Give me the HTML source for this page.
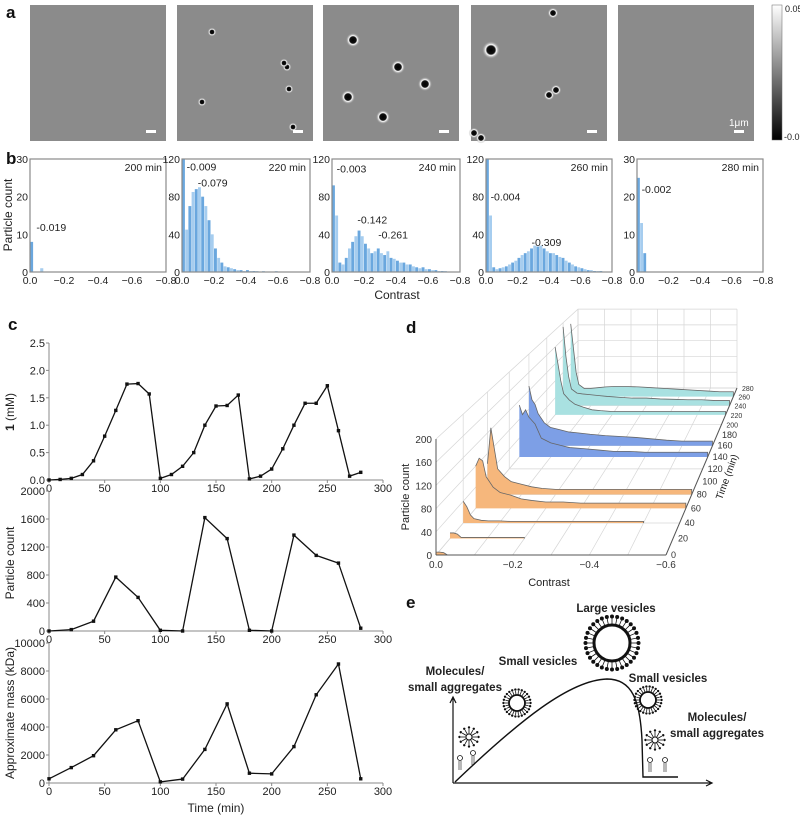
<!DOCTYPE html>
<html><head><meta charset="utf-8"><style>
html,body{margin:0;padding:0;background:#fff;}
svg{display:block;font-family:"Liberation Sans",sans-serif;}
</style></head><body>
<svg id="fig" width="800" height="817" viewBox="0 0 800 817" xmlns="http://www.w3.org/2000/svg">
<defs>
<linearGradient id="cbar" x1="0" y1="0" x2="0" y2="1"><stop offset="0" stop-color="#fff"/><stop offset="1" stop-color="#000"/></linearGradient>
<radialGradient id="dotg"><stop offset="0" stop-color="#000"/><stop offset="0.45" stop-color="#111"/><stop offset="0.6" stop-color="#fff"/><stop offset="1" stop-color="#8c8c8c" stop-opacity="0"/></radialGradient>
</defs>
<g font-weight="bold" font-size="17" fill="#111">
<text x="6" y="18">a</text>
<text x="6" y="164">b</text>
<text x="8" y="330">c</text>
<text x="406" y="333">d</text>
<text x="406" y="608">e</text>
</g>
<g id="pa"></g>
<g id="pb"></g>
<g id="pc"></g>
<g id="pd"></g>
<g id="pe"></g>
</svg>
<script>
const NS='http://www.w3.org/2000/svg';
function mk(tag,attrs,parent,txt){const e=document.createElementNS(NS,tag);for(const k in attrs)e.setAttribute(k,attrs[k]);if(txt!==undefined)e.textContent=txt;parent.appendChild(e);return e;}

// ---------- Panel a data ----------
const imgX=[30,177,323,471,618];
const imgDots=[[],[[35,27,2.5],[110,62,2.5],[107,58,2.5],[112,84,2.5],[25,97,2.5],[116,122,2.5]],
 [[30,35,4],[75,62,4],[102,79,4],[25,92,4],[60,112,4]],[[20,45,5],[82,8,3],[85,85,3],[78,90,3],[3,128,3],[10,133,3]],[]];
// ---------- Panel b data ----------
const histTimes=['200 min','220 min','240 min','260 min','280 min'];
const histYmax=[30,120,120,120,30];
const histX=[30,182,332,486,637];
const histW=[136,128,128,126,126];
const bins200=[8,0,0,1,0,0,0,0,0,0];
const bins220=[120,45,70,85,88,90,80,70,55,40,25,15,10,6,5,4,3,2,2,1,2,1,1,1,0,1,0,0,0,1];
const bins240=[92,60,10,8,15,25,32,38,44,38,30,25,20,22,25,20,18,22,15,14,12,10,10,8,8,6,5,4,5,3,3,2,2,1,1,1];
const bins260=[120,60,5,3,4,5,6,8,10,12,15,18,20,22,25,28,27,28,25,22,20,20,18,16,15,12,10,8,6,5,4,3,2,2,1,1,1];
const bins280=[25,13,5,0];
const allBins=[bins200,bins220,bins240,bins260,bins280];
const peakLabels=[[['-0.019',0.02,12]],[['-0.009',0.01,112],['-0.079',0.08,95]],[['-0.003',0.01,110],['-0.142',0.14,56],['-0.261',0.27,40]],[['-0.004',0.01,80],['-0.309',0.27,32]],[['-0.002',0.01,22]]];
const contrastTicks=['0.0','\u22120.2','\u22120.4','\u22120.6','\u22120.8'];
// ---------- Panel c data ----------
const tConc=[0,10,20,30,40,50,60,70,80,90,100,110,120,130,140,150,160,170,180,190,200,210,220,230,240,250,260,270,280];
const conc=[0,0.01,0.03,0.1,0.35,0.8,1.27,1.75,1.76,1.57,0.03,0.1,0.25,0.5,1.0,1.35,1.36,1.55,0.02,0.07,0.2,0.57,1.0,1.4,1.4,1.72,0.9,0.07,0.14];
const tCount=[0,20,40,60,80,100,120,140,160,180,200,220,240,260,280];
const counts=[0,20,140,770,480,10,0,1620,1320,10,0,1370,1080,970,40];
const mass=[300,1100,1950,3800,4450,80,280,2400,5650,700,650,2600,6300,8500,300];
const xTicksC=[0,50,100,150,200,250,300];
const yTicksConc=['0.0','0.5','1.0','1.5','2.0','2.5'];
const yTicksCount=[0,400,800,1200,1600,2000];
const yTicksMass=[0,2000,4000,6000,8000,10000];
// ---------- Panel d data ----------
const ridgeC=[0,0.01,0.02,0.03,0.05,0.07,0.1,0.13,0.16,0.2,0.25,0.3,0.35,0.4,0.45,0.5,0.55,0.6];
const ridgeTimes=[260,240,220,160,140,80,60,40,20,0];
const ridgeVals=[
 [180,120,60,30,20,20,22,24,25,25,24,22,20,18,16,14,12,12],
 [190,120,70,40,30,28,26,24,22,20,18,18,16,15,14,14,12,12],
 [160,120,80,50,35,25,18,12,10,8,8,8,8,8,8,8,8,8],
 [130,100,90,70,50,40,35,30,28,25,22,20,18,15,12,10,10,10],
 [110,90,100,85,70,40,30,25,20,18,15,12,12,10,10,10,10,10],
 [60,130,90,50,35,25,20,15,12,10,10,10,10,10,10,10,10,10],
 [80,95,90,60,40,30,25,18,15,12,12,10,10,10,10,10,10,10],
 [40,30,15,8,5,4,4,3,3,3,3,3,3,3,3,3],
 [10,10,8,2,2,2,2,2,2,2],
 [5,5,4,0]];
const ridgeColors=['#a9e1e1','#a9e1e1','#a9e1e1','#7d9fe6','#7d9fe6','#f6b77c','#f6b77c','#f6b77c','#f6b77c','#f6b77c'];
const timeTicks=[0,20,40,60,80,100,120,140,160,180,200,220,240,260,280];
const countTicksD=[0,40,80,120,160,200];
const contrastTicksD=['0.0','\u22120.2','\u22120.4','\u22120.6'];

// ================= Panel a =================
const pa=document.getElementById('pa');
imgX.forEach((x,i)=>{
 const r=mk('rect',{x:x,y:5,width:136,height:136,fill:'#8b8b8b'},pa);
 
 
 imgDots[i].forEach(d=>{
  const c=mk('circle',{cx:x+d[0],cy:5+d[1],r:d[2]*1.8,fill:'url(#dotg)'},pa);
  
  
 });
 const sb=mk('rect',{x:x+116,y:130,width:10,height:3,fill:'#fff'},pa);
 
 
});
const sbl=mk('text',{x:729,y:126,'font-size':10,fill:'#fff'},pa,'1\u03bcm');


const cb=mk('rect',{x:772,y:5,width:10,height:135,fill:'url(#cbar)',stroke:'#666','stroke-width':0.5},pa);


const cbt=mk('text',{x:785,y:12,'font-size':9,fill:'#222'},pa,'0.05');


const cbb=mk('text',{x:784,y:140,'font-size':9,fill:'#222'},pa,'-0.05');



// ================= Panel b =================
const pb=document.getElementById('pb');
const bTop=159,bBot=272;
histX.forEach((x0,i)=>{
 const w=histW[i];
 const xs=c=>x0+c/0.8*w;
 const ys=v=>bBot-v/histYmax[i]*(bBot-bTop);
 const g=mk('g',{},pb);
 
 
 allBins[i].forEach((v,j)=>{
  const h=Math.min(v,histYmax[i]);
  const b=mk('rect',{x:xs(j*0.02),y:ys(h),width:w*0.02/0.8-0.3,height:bBot-ys(h),fill:j%2?'#a6cdef':'#6aa7de'},g);
  
  
 });
 const fr=mk('rect',{x:x0,y:bTop,width:w,height:bBot-bTop,fill:'none',stroke:'#8a8a8a','stroke-width':1.2},g);
 
 
 contrastTicks.forEach((t,k)=>{
  const tx=mk('text',{x:xs(k*0.2),y:bBot+12,'font-size':10.5,'text-anchor':'middle',fill:'#222'},g,t);
  
  
 });
 const lbls=histYmax[i]===30?[0,10,20,30]:[0,40,80,120];
 lbls.forEach(lbl=>{
  const tx=mk('text',{x:x0-2,y:ys(lbl)+4,'font-size':10.5,'text-anchor':'end',fill:'#222'},g,String(lbl));
  
  
 });
 const tl=mk('text',{x:x0+w-4,y:bTop+12,'font-size':10.5,'text-anchor':'end',fill:'#222'},g,histTimes[i]);
 
 
 peakLabels[i].forEach(p=>{
  const pl=mk('text',{x:xs(p[1])+3,y:ys(p[2])+4,'font-size':10.5,fill:'#222'},g,p[0]);
  
  
 });
});
const byl=mk('text',{x:0,y:0,'font-size':12,'text-anchor':'middle',fill:'#222',transform:'translate(12,215) rotate(-90)'},pb,'Particle count');


const bxl=mk('text',{x:397,y:299,'font-size':12,'text-anchor':'middle',fill:'#222'},pb,'Contrast');



// ================= Panel c =================
const pc=document.getElementById('pc');
const cx0=49,cx1=383;
const xsC=t=>cx0+t/300*(cx1-cx0);
function lineChart(name,top,bot,ymax,tx,ty,tickLabels,tickVals,title,ttlY){
 const g=mk('g',{},pc);
 
 
 const ys=v=>bot-v/ymax*(bot-top);
 const ax=mk('path',{d:`M${cx0},${top} V${bot} H${cx1}`,fill:'none',stroke:'#888','stroke-width':1},g);
 
 
 xTicksC.forEach(t=>{
  const tk=mk('line',{x1:xsC(t),x2:xsC(t),y1:bot,y2:bot+3,stroke:'#888'},g);
  
  
  const l=mk('text',{x:xsC(t),y:bot+12,'font-size':11,'text-anchor':'middle',fill:'#222'},g,String(t));
  
  
 });
 tickVals.forEach((v,k)=>{
  const tk=mk('line',{x1:cx0-3,x2:cx0,y1:ys(v),y2:ys(v),stroke:'#888'},g);
  
  
  const l=mk('text',{x:cx0-4,y:ys(v)+4,'font-size':11,'text-anchor':'end',fill:'#222'},g,tickLabels[k]);
  
  
 });
 const pts=tx.map((t,k)=>xsC(t)+','+ys(ty[k])).join(' ');
 const pl=mk('polyline',{points:pts,fill:'none',stroke:'#111','stroke-width':1.3},g);
 
 
 tx.forEach((t,k)=>{
  const m=mk('rect',{x:xsC(t)-1.7,y:ys(ty[k])-1.7,width:3.4,height:3.4,fill:'#111'},g);
  
  
 });
 const tt=mk('text',{x:0,y:0,'font-size':12,'text-anchor':'middle',fill:'#222',transform:`translate(14,${ttlY}) rotate(-90)`},g);
 
 
 if(title==='conc'){mk('tspan',{'font-weight':'bold'},tt,'1');mk('tspan',{},tt,' (mM)');}
 else tt.textContent=title;
}
lineChart('concentration-chart',343,480,2.5,tConc,conc,yTicksConc,yTicksConc.map(Number),'conc',412);
lineChart('particle-count-chart',491,631,2000,tCount,counts,yTicksCount.map(String),yTicksCount,'Particle count',563);
lineChart('mass-chart',643,783,10000,tCount,mass,yTicksMass.map(String),yTicksMass,'Approximate mass (kDa)',713);
const txl=mk('text',{x:216,y:812,'font-size':12,'text-anchor':'middle',fill:'#222'},pc,'Time (min)');



// ================= Panel d =================
const pd=document.getElementById('pd');
const ox=436,oy=555,W=230,H=116,DX=142,DY=167,PA=0.704;
const F=t=>{const u=t/280;return u/(u+(1-u)*PA);};
const P=(c,t,v)=>{const f=F(t);return [ox+f*DX+c/0.6*(W-71*f), oy-f*DY-v/200*H*(1-0.32*f)];};
const grid=mk('g',{stroke:'#d6d6d6','stroke-width':0.7,fill:'none'},pd);


countTicksD.forEach(v=>{
 const a=P(0,0,v),b=P(0,280,v),c=P(0.6,280,v);
 mk('polyline',{points:`${a} ${b} ${c}`},grid);
});
[0,0.1,0.2,0.3,0.4,0.5,0.6].forEach(c=>{
 const a=P(c,0,0),b=P(c,280,0),d=P(c,280,200);
 mk('polyline',{points:`${a} ${b} ${d}`},grid);
});
[0,40,80,120,160,200,240,280].forEach(t=>{
 const a=P(0,t,200),b=P(0,t,0),c=P(0.6,t,0);
 mk('polyline',{points:`${a} ${b} ${c}`},grid);
});
ridgeTimes.forEach((t,i)=>{
 const vals=ridgeVals[i];
 const pts=vals.map((v,k)=>P(ridgeC[k],t,v).join(','));
 const end=P(ridgeC[vals.length-1],t,0),st=P(0,t,0);
 const f=mk('polygon',{points:st.join(',')+' '+pts.join(' ')+' '+end.join(','),fill:ridgeColors[i],stroke:'none'},pd);
 
 
 const l=mk('polyline',{points:pts.join(' ')+' '+end.join(','),fill:'none',stroke:'#666','stroke-width':0.8},pd);
 
 
});
const axD=mk('g',{stroke:'#555','stroke-width':1,fill:'none'},pd);


mk('line',{x1:ox,y1:oy,x2:ox,y2:oy-H},axD);
mk('line',{x1:ox,y1:oy,x2:ox+W,y2:oy},axD);
const tEnd=P(0.6,280,0);
mk('line',{x1:ox+W,y1:oy,x2:tEnd[0],y2:tEnd[1]},axD);
countTicksD.forEach(v=>{
 const p=P(0,0,v);
 const l=mk('text',{x:p[0]-4,y:p[1]+4,'font-size':10,'text-anchor':'end',fill:'#333'},pd,String(v));
 
 
});
contrastTicksD.forEach((s,k)=>{
 const p=P(k*0.2,0,0);
 const l=mk('text',{x:p[0],y:p[1]+13,'font-size':10,'text-anchor':'middle',fill:'#333'},pd,s);
 
 
});
timeTicks.forEach(t=>{
 const p=P(0.6,t,0);
 const l=mk('text',{x:p[0]+5,y:p[1]+3,'font-size':t>=200?7:9,fill:'#333'},pd,String(t));
 
 
});
const dxl=mk('text',{x:549,y:586,'font-size':11,'text-anchor':'middle',fill:'#222'},pd,'Contrast');


const dyl=mk('text',{x:0,y:0,'font-size':11,'text-anchor':'middle',fill:'#222',transform:'translate(409,497) rotate(-90)'},pd,'Particle count');


const dtl=mk('text',{x:0,y:0,'font-size':10,'text-anchor':'middle',fill:'#222',transform:'translate(730,478) rotate(-70)'},pd,'Time (min)');



// ================= Panel e =================
const pe=document.getElementById('pe');
const ax=mk('g',{stroke:'#111','stroke-width':1.2,fill:'none'},pe);


mk('path',{d:'M453,783 V698 M450,703 L453,697 L456,703'},ax);
mk('path',{d:'M453,783 H711 M706,780 L712,783 L706,786'},ax);
const curve=mk('path',{d:'M455,782 C520,720 570,680 607,679 C632,679 640,700 642,740 L643,777 H678',fill:'none',stroke:'#111','stroke-width':1.4},pe);


function vesicle(cx,cy,r,len,n,sw,name){
 const g=mk('g',{},pe);
 
 
 mk('circle',{cx:cx,cy:cy,r:r,fill:'none',stroke:'#111','stroke-width':sw},g);
 for(let k=0;k<n;k++){const a=k/n*2*Math.PI;const r2=r+len;
  mk('line',{x1:cx+r*Math.cos(a),y1:cy+r*Math.sin(a),x2:cx+r2*Math.cos(a),y2:cy+r2*Math.sin(a),stroke:'#111','stroke-width':0.8},g);
  mk('circle',{cx:cx+(r2+1.5)*Math.cos(a),cy:cy+(r2+1.5)*Math.sin(a),r:sw>2?2:1.2,fill:'#111'},g);}
}
vesicle(612,643,18,7,32,3,'large-vesicle');
vesicle(517,703,8,4,26,1.8,'small-vesicle-left');
vesicle(648,700,8,4,26,1.8,'small-vesicle-right');
vesicle(469,737,3,5,12,1,'micelle-left');
vesicle(655,740,3,5,12,1,'micelle-right');
[[460,758],[473,753],[650,760],[665,760]].forEach(p=>{
 const g=mk('g',{},pe);
 
 
 mk('circle',{cx:p[0],cy:p[1],r:2.5,fill:'#fff',stroke:'#111','stroke-width':0.8},g);
 mk('path',{d:`M${p[0]-1},${p[1]+3} v9 M${p[0]+1},${p[1]+3} v9`,stroke:'#111','stroke-width':0.6},g);
});
const labs=[['Large vesicles',616,612],['Small vesicles',538,665],['Small vesicles',668,682],['Molecules/',455,675],['small aggregates',455,691],['Molecules/',717,721],['small aggregates',717,737]];
labs.forEach(l=>{
 const t=mk('text',{x:l[1],y:l[2],'font-size':11.5,'font-weight':'bold','text-anchor':'middle',fill:'#222'},pe,l[0]);
 
 
});
</script>
</body></html>
